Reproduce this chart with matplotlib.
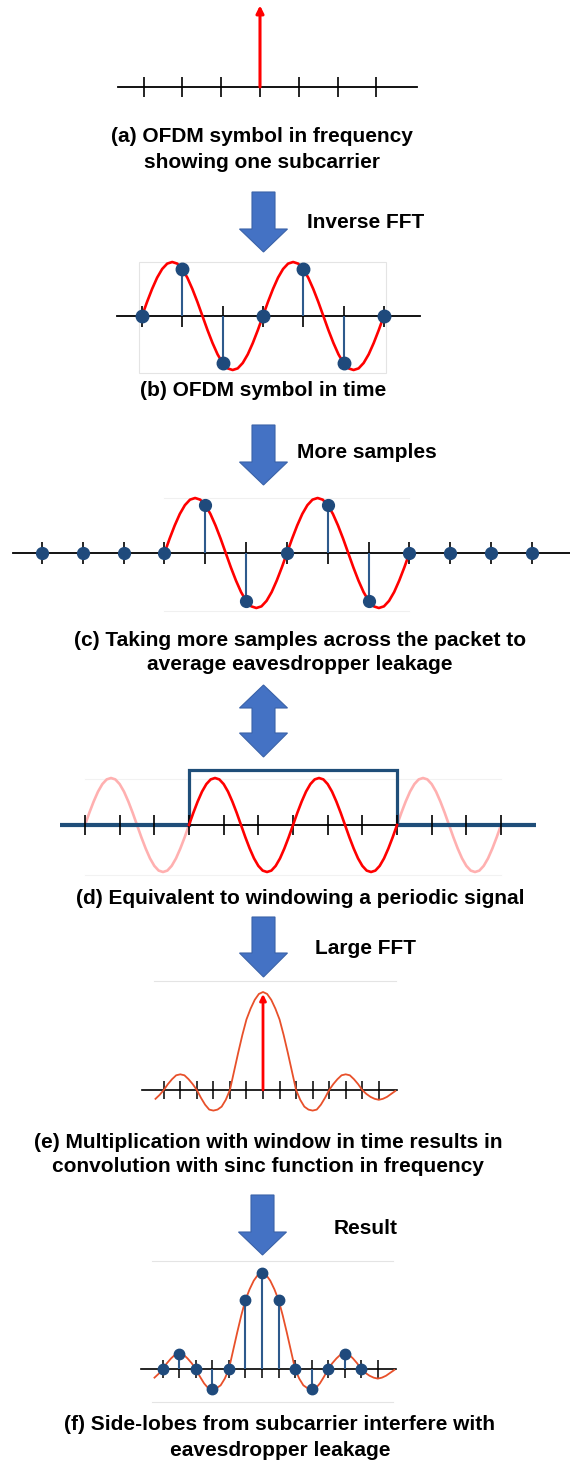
import numpy as np
import matplotlib.pyplot as plt
from matplotlib.patches import Polygon, Rectangle

# ---- data ----
# (a) one subcarrier in frequency
ticks_a = [-3, -2, -1, 0, 1, 2, 3]
carrier_pos = 0
carrier_amp = 1.02

# one cycle of the sine, sampled every 1/8 tick (cycle = 3 ticks)
sine_cycle = [0, 0.26, 0.50, 0.71, 0.87, 0.97, 1.00, 0.97, 0.87, 0.71, 0.50, 0.26,
              0, -0.26, -0.50, -0.71, -0.87, -0.97, -1.00, -0.97, -0.87, -0.71, -0.50, -0.26, 0]

# (b) OFDM symbol in time
ticks_b = [0, 1, 2, 3, 4, 5, 6]
samples_b = [0, 0.87, -0.87, 0, 0.87, -0.87, 0]

# (c) more samples across the packet
ticks_c = list(range(13))
samples_c = [0, 0, 0, 0, 0.87, -0.87, 0, 0.87, -0.87, 0, 0, 0, 0]
signal_span_c = (3, 9)

# (d) window on a periodic signal
ticks_d = list(range(13))
window_d = (3, 9)
window_height = 1.17

# (e)/(f) sinc-like spectrum, sampled every 1/4 tick from -6.5 to 8.0
sinc_curve = [-0.09, -0.05, 0, 0.06, 0.11, 0.15, 0.16, 0.15, 0.11, 0.06,
              0, -0.08, -0.15, -0.20, -0.21, -0.20, -0.17, -0.10,
              0, 0.19, 0.38, 0.56, 0.72, 0.83, 0.92, 0.98,
              1.00,
              0.98, 0.92, 0.83, 0.72, 0.56, 0.38, 0.19, 0,
              -0.10, -0.17, -0.20, -0.21, -0.20, -0.15, -0.08, 0,
              0.06, 0.11, 0.15, 0.16, 0.15, 0.11, 0.06, 0,
              -0.04, -0.07, -0.09, -0.10, -0.09, -0.07, -0.04, -0.01]
ticks_ef = list(range(-6, 8))
samples_f_idx = list(range(-6, 7))
samples_f = [0, 0.16, 0, -0.21, 0, 0.72, 1.00, 0.72, 0, -0.21, 0, 0.16, 0]

captions = {
    'a': ["(a) OFDM symbol in frequency", "showing one subcarrier"],
    'b': ["(b) OFDM symbol in time"],
    'c': ["(c) Taking more samples across the packet to", "average eavesdropper leakage"],
    'd': ["(d) Equivalent to windowing a periodic signal"],
    'e': ["(e) Multiplication with window in time results in",
          "convolution with sinc function in frequency"],
    'f': ["(f) Side-lobes from subcarrier interfere with", "eavesdropper leakage"],
}
arrow_labels = ["Inverse FFT", "More samples", "Large FFT", "Result"]

# ---- style ----
RED = '#ff0000'
FADED = '#ffb0b0'
SINC = '#e8502a'
DOT = '#1f4a7c'
STEM = '#2e5a8c'
WIN = '#1f4e79'
ARROW = '#4472c4'
ARROW_EDGE = '#3a62a8'
FRAME = '#e4e4e4'

W, H = 570, 1462
plt.rcParams['font.family'] = ['Liberation Sans', 'DejaVu Sans']
fig = plt.figure(figsize=(W / 100, H / 100), dpi=100)
fig.patch.set_facecolor('white')

bg = fig.add_axes([0, 0, 1, 1])
bg.set_xlim(0, W)
bg.set_ylim(H, 0)
bg.axis('off')


def panel(cx, cy, sx, sy, left, right, top, bottom):
    # axes placed in pixel space; data units = ticks (x) and amplitude (y)
    ax = fig.add_axes([left / W, 1 - bottom / H, (right - left) / W, (bottom - top) / H])
    ax.set_xlim((left - cx) / sx, (right - cx) / sx)
    ax.set_ylim((cy - bottom) / sy, (cy - top) / sy)
    ax.axis('off')
    ax.patch.set_alpha(0)
    return ax


def ticks(ax, pos, half_px, sy, lw=1.2):
    h = half_px / sy
    ax.vlines(pos, -h, h, color='black', lw=lw, zorder=3)


def stems(ax, idx, vals, ms=8.5):
    idx = np.asarray(idx)
    vals = np.asarray(vals)
    nz = vals != 0
    ax.vlines(idx[nz], 0, vals[nz], color=STEM, lw=1.5, zorder=4)
    ax.plot(idx, vals, 'o', color=DOT, ms=ms, zorder=5, clip_on=False)


def down_arrow(x, top, head_top, tip, body=23, head=48):
    pts = [(x - body / 2, top), (x + body / 2, top), (x + body / 2, head_top),
           (x + head / 2, head_top), (x, tip), (x - head / 2, head_top),
           (x - body / 2, head_top)]
    bg.add_patch(Polygon(pts, closed=True, fc=ARROW, ec=ARROW_EDGE, lw=0.8))


def caption(x, ys, lines):
    for y, s in zip(ys, lines):
        bg.text(x, y, s, fontsize=15, fontweight='bold', ha='center', va='center')


# ---- (a) ----
ax = panel(260, 87, 38.8, 80, 100, 440, 0, 110)
ax.plot([(118 - 260) / 38.8, (417 - 260) / 38.8], [0, 0], color='black', lw=1.3)
ticks(ax, ticks_a, 10, 80)
ax.annotate('', xy=(carrier_pos, carrier_amp), xytext=(carrier_pos, 0),
            arrowprops=dict(arrowstyle='-|>', color=RED, lw=2.2,
                            mutation_scale=11, shrinkA=0, shrinkB=0), zorder=6)
caption(262, [136, 163], captions['a'])

# ---- arrow 1 ----
down_arrow(263.5, 192, 229, 252)
bg.text(307, 222, arrow_labels[0], fontsize=15, fontweight='bold', ha='left', va='center')

# ---- (b) ----
ax = panel(142, 316, 40.3, 54, 100, 440, 255, 380)
ax.add_patch(Rectangle((-0.07, -1.05), 6.12, 2.05, fill=False, ec=FRAME, lw=0.8))
ax.plot([(117 - 142) / 40.3, (420 - 142) / 40.3], [0, 0], color='black', lw=1.3, zorder=2)
ticks(ax, ticks_b, 10.5, 54)
xb = np.arange(0, 6.001, 0.125)
ax.plot(xb, sine_cycle + sine_cycle[1:], color=RED, lw=1.9, zorder=3)
stems(ax, ticks_b, samples_b, ms=9)
caption(263, [390], captions['b'])

# ---- arrow 2 ----
down_arrow(263.5, 425, 462, 485)
bg.text(297, 453, arrow_labels[1], fontsize=15, fontweight='bold', ha='left', va='center')

# ---- (c) ----
ax = panel(42, 553, 40.83, 55, 0, 570, 490, 620)
for yl in (1.0, -1.05):
    ax.plot(signal_span_c, [yl, yl], color='#f0f0f0', lw=0.8)
ax.plot([(13 - 42) / 40.83, (570 - 42) / 40.83], [0, 0], color='black', lw=1.3, zorder=2)
ticks(ax, ticks_c, 11, 55)
xc = np.arange(signal_span_c[0], signal_span_c[1] + 0.001, 0.125)
ax.plot(xc, sine_cycle + sine_cycle[1:], color=RED, lw=1.9, zorder=3)
stems(ax, ticks_c, samples_c, ms=8.5)
caption(300, [640, 665], captions['c'])

# ---- arrow 3 (double) ----
pts = [(263.5, 685), (287.5, 708), (275, 708), (275, 733), (287.5, 733), (263.5, 757),
       (239.5, 733), (252, 733), (252, 708), (239.5, 708)]
bg.add_patch(Polygon(pts, closed=True, fc=ARROW, ec=ARROW_EDGE, lw=0.8))

# ---- (d) ----
ax = panel(85, 825, 34.67, 47, 30, 560, 760, 885)
for yl in (0.98, -1.06):
    ax.plot([ticks_d[0], ticks_d[-1]], [yl, yl], color='#f2f2f2', lw=0.8)
xd = np.arange(0, 3.001, 0.125)
ax.plot(xd, sine_cycle, color=FADED, lw=1.9, zorder=2)
ax.plot(xd + 9, sine_cycle, color=FADED, lw=1.9, zorder=2)
xw = np.arange(window_d[0], window_d[1] + 0.001, 0.125)
ax.plot(xw, sine_cycle + sine_cycle[1:], color=RED, lw=1.9, zorder=4)
# thick baseline outside the window, thinner window outline
ax.plot([(60 - 85) / 34.67, window_d[0]], [0, 0], color=WIN, lw=3, zorder=3, solid_capstyle='butt')
ax.plot([window_d[1], (536 - 85) / 34.67], [0, 0], color=WIN, lw=3, zorder=3, solid_capstyle='butt')
ax.plot([window_d[0], window_d[0], window_d[1], window_d[1]],
        [0, window_height, window_height, 0], color=WIN, lw=2.3, zorder=3,
        solid_joinstyle='miter')
ax.plot(window_d, [0, 0], color='black', lw=1.3, zorder=3)
ticks(ax, ticks_d, 10, 47)
caption(300, [898], captions['d'])

# ---- arrow 4 ----
down_arrow(263.5, 917, 953, 977)
bg.text(315, 948, arrow_labels[2], fontsize=15, fontweight='bold', ha='left', va='center')

# ---- (e) ----
xs = np.arange(-6.5, 8.001, 0.25)
ax = panel(263, 1090, 16.54, 98, 130, 430, 975, 1120)
ax.plot([(154 - 263) / 16.54, (396 - 263) / 16.54], [1.11, 1.11], color=FRAME, lw=0.8)
ax.plot([(142 - 263) / 16.54, (397 - 263) / 16.54], [0, 0], color='black', lw=1.2)
ticks(ax, ticks_ef, 9, 98, lw=1.1)
ax.plot(xs, sinc_curve, color=SINC, lw=1.3, zorder=3)
ax.annotate('', xy=(0, 0.98), xytext=(0, 0),
            arrowprops=dict(arrowstyle='-|>', color=RED, lw=2.0,
                            mutation_scale=9, shrinkA=0, shrinkB=0), zorder=6)
caption(268, [1142, 1167], captions['e'])

# ---- arrow 5 ----
down_arrow(262.5, 1195, 1232, 1255)
bg.text(334, 1228, arrow_labels[3], fontsize=15, fontweight='bold', ha='left', va='center')

# ---- (f) ----
ax = panel(262, 1369, 16.54, 96, 130, 430, 1255, 1408)
for yl in ((1369 - 1261) / 96, (1369 - 1402) / 96):
    ax.plot([(152 - 262) / 16.54, (393 - 262) / 16.54], [yl, yl], color=FRAME, lw=0.8)
ax.plot([(141 - 262) / 16.54, (396 - 262) / 16.54], [0, 0], color='black', lw=1.2)
ticks(ax, ticks_ef, 9, 96, lw=1.1)
ax.plot(xs, sinc_curve, color=SINC, lw=1.3, zorder=3)
stems(ax, samples_f_idx, samples_f, ms=7.5)
caption(280, [1425, 1450], captions['f'])

fig.savefig('out.png', dpi=100, facecolor='white')
